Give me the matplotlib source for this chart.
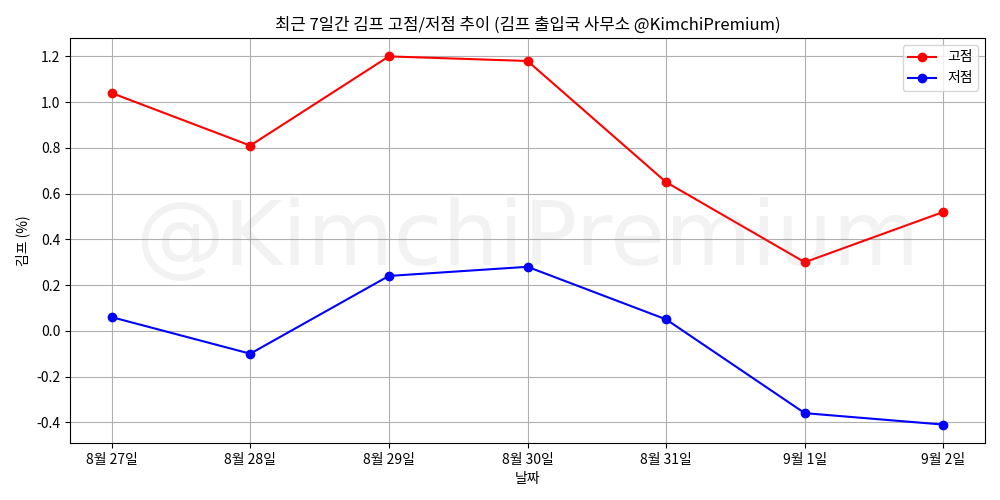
import matplotlib
matplotlib.use("Agg")
import matplotlib.pyplot as plt

plt.rcParams['font.family'] = ['Noto Sans CJK KR', 'DejaVu Sans']
plt.rcParams['axes.unicode_minus'] = False

dates = ['8월 27일', '8월 28일', '8월 29일', '8월 30일', '8월 31일', '9월 1일', '9월 2일']
highs = [1.04, 0.81, 1.20, 1.18, 0.65, 0.30, 0.52]
lows = [0.06, -0.10, 0.24, 0.28, 0.05, -0.36, -0.41]

fig, ax = plt.subplots(figsize=(10, 5), dpi=100)
ax.plot(dates, highs, 'o-', color='red', label='고점')
ax.plot(dates, lows, 'o-', color='blue', label='저점')
ax.set_title('최근 7일간 김프 고점/저점 추이 (김프 출입국 사무소 @KimchiPremium)')
ax.set_xlabel('날짜')
ax.set_ylabel('김프 (%)')
ax.grid(True)
ax.legend(loc='upper right')
ax.text(0.5, 0.5, '@KimchiPremium', transform=ax.transAxes, fontsize=64,
        color='gray', alpha=0.1, ha='center', va='center', family='DejaVu Sans')
fig.subplots_adjust(left=0.07, right=0.985, top=0.924, bottom=0.114)
fig.savefig('out.png')
